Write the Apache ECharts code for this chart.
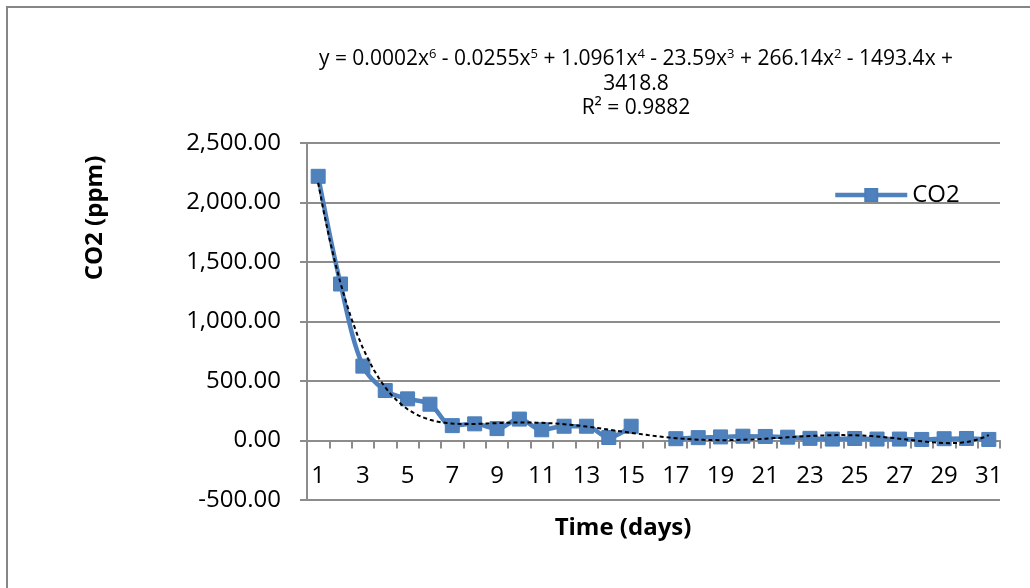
<!DOCTYPE html>
<html><head><meta charset="utf-8">
<script src="https://cdn.jsdelivr.net/npm/echarts@6/dist/echarts.min.js"></script>
<style>html,body{margin:0;padding:0;background:#fff}#c{width:1030px;height:588px}</style>
</head><body><div id="c"></div>
<script>
// ---- data ----
const days = ['1','2','3','4','5','6','7','8','9','10','11','12','13','14','15','16','17','18','19','20','21','22','23','24','25','26','27','28','29','30','31'];
const co2 = [2220, 1315, 625, 420, 350, 305, 125, 140, 100, 180, 90, 120, 120, 25, 120, null, 15, 24, 30, 36, 34, 28, 18, 12, 17, 12, 12, 9, 15, 17, 9];
const yTicks = [-500, 0, 500, 1000, 1500, 2000, 2500];
const seriesName = 'CO2';
const xTitle = 'Time (days)';
const yTitle = 'CO2 (ppm)';
const eqLine1 = '{n|y = 0.0002x}{s|6}{n| - 0.0255x}{s|5}{n| + 1.0961x}{s|4}{n| - 23.59x}{s|3}{n| + 266.14x}{s|2}{n| - 1493.4x +}';
const eqLine2 = '3418.8';
const eqLine3 = 'R² = 0.9882';

// ---- 6th order least-squares trendline fitted to the data ----
function polyFit(xs, ys, deg) {
  const c = 16, s = 15, n = deg + 1;
  const A = Array.from({length: n}, () => new Array(n + 1).fill(0));
  for (let k = 0; k < xs.length; k++) {
    const t = (xs[k] - c) / s;
    const p = []; let v = 1;
    for (let i = 0; i < n; i++) { p.push(v); v *= t; }
    for (let i = 0; i < n; i++) {
      for (let j = 0; j < n; j++) A[i][j] += p[i] * p[j];
      A[i][n] += p[i] * ys[k];
    }
  }
  for (let i = 0; i < n; i++) {
    let m = i;
    for (let r = i + 1; r < n; r++) if (Math.abs(A[r][i]) > Math.abs(A[m][i])) m = r;
    const tmp = A[i]; A[i] = A[m]; A[m] = tmp;
    for (let r = 0; r < n; r++) {
      if (r === i) continue;
      const f = A[r][i] / A[i][i];
      for (let cc = i; cc <= n; cc++) A[r][cc] -= f * A[i][cc];
    }
  }
  const coef = A.map((row, i) => row[n] / row[i]);
  return x => { const t = (x - c) / s; let y = 0, v = 1; for (const a of coef) { y += a * v; v *= t; } return y; };
}
const fx = [], fy = [];
co2.forEach((v, i) => { if (v !== null) { fx.push(i + 1); fy.push(v); } });
const trendFn = polyFit(fx, fy, 6);
const trend = [];
for (let x = 1; x <= days.length + 1e-9; x += 0.25) trend.push([x, trendFn(x)]);

function fmt(v) {
  const neg = v < 0, a = Math.abs(v);
  const ip = Math.floor(a).toString().replace(/\B(?=(\d{3})+(?!\d))/g, ',');
  return (neg ? '-' : '') + ip + '.00';
}

const FONT = 'Open Sans';
const GRID = '#8c8c8c';
const BLUE = '#4F81BD';

const chart = echarts.init(document.getElementById('c'), null, {renderer: 'canvas'});
chart.setOption({
  animation: false,
  backgroundColor: '#fff',
  textStyle: {fontFamily: FONT},
  grid: {left: 307, right: 30, top: 143, bottom: 88},
  legend: {
    data: [seriesName], left: 828, top: 178, itemWidth: 72, itemHeight: 15,
    lineStyle: {width: 4.5, color: BLUE},
    textStyle: {fontSize: 24, color: '#000', fontFamily: FONT}
  },
  xAxis: [{
    type: 'category', data: days, boundaryGap: true,
    axisLine: {onZero: true, lineStyle: {color: GRID, width: 2}},
    axisTick: {show: true, interval: 0, length: 8, alignWithLabel: false, lineStyle: {color: GRID, width: 2}},
    axisLabel: {interval: 1, margin: -36, fontSize: 24, color: '#000', fontFamily: FONT},
    splitLine: {show: false}
  }, {
    type: 'value', min: 0.5, max: days.length + 0.5, show: false
  }],
  yAxis: {
    type: 'value', min: yTicks[0], max: yTicks[yTicks.length - 1], interval: yTicks[1] - yTicks[0],
    axisLine: {show: true, onZero: false, lineStyle: {color: GRID, width: 2}},
    axisTick: {show: true, length: 7, lineStyle: {color: GRID, width: 2}},
    axisLabel: {margin: 26, fontSize: 24, color: '#000', fontFamily: FONT, formatter: fmt},
    splitLine: {show: true, lineStyle: {color: GRID, width: 2}}
  },
  series: [{
    name: seriesName, type: 'line', data: co2, smooth: 0.35, connectNulls: false,
    symbol: 'rect', symbolSize: 14, showAllSymbol: true,
    lineStyle: {width: 4.5, color: BLUE},
    itemStyle: {color: BLUE, borderColor: '#4A7EBB', borderWidth: 1},
    z: 2
  }, {
    name: 'trend', type: 'line', xAxisIndex: 1, data: trend, symbol: 'none', showSymbol: false,
    smooth: false, silent: true,
    lineStyle: {color: '#000', width: 2, type: [4, 3]},
    z: 3
  }],
  graphic: [
    {type: 'rect', silent: true, shape: {x: 7, y: 7, width: 1100, height: 700}, style: {fill: 'none', stroke: '#868686', lineWidth: 2}},
    {type: 'text', x: 636, y: 59, style: {text: eqLine1, align: 'center', verticalAlign: 'middle',
      rich: {n: {fontSize: 21, fontFamily: FONT, fill: '#000', align: 'center'},
             s: {fontSize: 13, fontFamily: FONT, fill: '#000', align: 'center', verticalAlign: 'top', padding: [0, 0, 10, 0]}}}},
    {type: 'text', x: 636, y: 84, style: {text: eqLine2, align: 'center', verticalAlign: 'middle', fontSize: 21, fontFamily: FONT, fill: '#000'}},
    {type: 'text', x: 636, y: 108, style: {text: eqLine3, align: 'center', verticalAlign: 'middle', fontSize: 21, fontFamily: FONT, fill: '#000'}},
    {type: 'text', x: 623, y: 528, style: {text: xTitle, align: 'center', verticalAlign: 'middle', fontSize: 24, fontWeight: 'bold', fontFamily: FONT, fill: '#000'}},
    {type: 'text', x: 95, y: 218, rotation: Math.PI / 2, style: {text: yTitle, align: 'center', verticalAlign: 'middle', fontSize: 24, fontWeight: 'bold', fontFamily: FONT, fill: '#000'}}
  ]
});
</script></body></html>
